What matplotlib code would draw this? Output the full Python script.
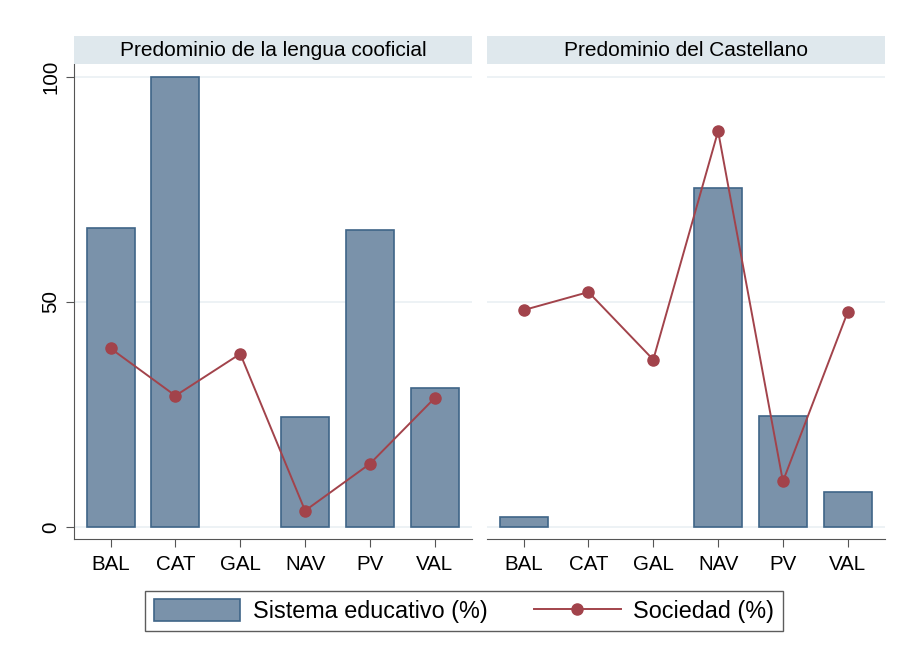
import matplotlib.pyplot as plt
from matplotlib.patches import Patch
from matplotlib.lines import Line2D

plt.rcParams['font.family'] = ['Liberation Sans', 'DejaVu Sans']

regiones = ["BAL", "CAT", "GAL", "NAV", "PV", "VAL"]
paneles = ["Predominio de la lengua cooficial", "Predominio del Castellano"]

# sistema educativo (%) y sociedad (%) por panel
educ_cooficial = [66.5, 100, 0, 24.4, 66.0, 30.9]
soc_cooficial = [39.7, 29.2, 38.5, 3.7, 14.1, 28.7]
educ_castellano = [2.4, 0, 0, 75.3, 24.7, 7.8]
soc_castellano = [48.2, 52.2, 37.2, 87.9, 10.2, 47.8]

educ = [educ_cooficial, educ_castellano]
soc = [soc_cooficial, soc_castellano]

bar_col = "#7a92aa"
bar_edge = "#3f6588"
line_col = "#a2434b"
strip_col = "#dfe8ed"
grid_col = "#eaf0f4"

W, H = 910, 651
fig = plt.figure(figsize=(W / 100, H / 100), dpi=100)

lefts = [74.3, 487.3]
ax_w = 397.4
ax_top, ax_bot = 64, 539.3

x = list(range(len(regiones)))
for i in range(2):
    ax = fig.add_axes([lefts[i] / W, (H - ax_bot) / H, ax_w / W, (ax_bot - ax_top) / H])
    # sin borde para barras de altura cero
    lw = [1.2 if v > 0 else 0 for v in educ[i]]
    ax.bar(x, educ[i], width=0.74, color=bar_col, edgecolor=bar_edge, linewidth=lw, zorder=2)
    ax.plot(x, soc[i], color=line_col, lw=1.4, marker="o", ms=8, zorder=3)
    ax.set_xlim(-0.56, 5.57)
    ax.set_ylim(-2.65, 102.8)
    ax.set_yticks([0, 50, 100])
    ax.grid(axis="y", color=grid_col, lw=1.2, zorder=0)
    ax.set_xticks(x)
    ax.set_xticklabels(regiones, fontsize=14.8)
    ax.tick_params(axis="x", length=6, color="#555555", pad=5)
    for s in ["top", "right"]:
        ax.spines[s].set_visible(False)
    ax.spines["bottom"].set_color("#555555")
    ax.spines["left"].set_color("#555555")
    if i == 0:
        ax.set_yticklabels(["0", "50", "100"], fontsize=14.8, rotation=90, va="center")
        ax.tick_params(axis="y", length=6, color="#555555", pad=4)
    else:
        ax.spines["left"].set_visible(False)
        ax.tick_params(axis="y", left=False, labelleft=False)

    # franja de título
    st = fig.add_axes([lefts[i] / W, (H - 64) / H, ax_w / W, 28.3 / H])
    st.set_facecolor(strip_col)
    st.set_xticks([])
    st.set_yticks([])
    for s in st.spines.values():
        s.set_visible(False)
    st.text(0.5, 0.47, paneles[i], ha="center", va="center", fontsize=15, transform=st.transAxes)

handles = [Patch(facecolor=bar_col, edgecolor=bar_edge, linewidth=1.2),
           Line2D([], [], color=line_col, lw=1.4, marker="o", ms=8)]
leg = fig.legend(handles, ["Sistema educativo (%)", "Sociedad (%)"], loc="center",
                 bbox_to_anchor=(464 / W, 40 / H), ncol=2, fontsize=16.8, frameon=True,
                 fancybox=False, edgecolor="#333333", handlelength=3.7, handleheight=1.1,
                 handletextpad=0.55, columnspacing=2.0, borderpad=0.35, borderaxespad=0)
leg.get_frame().set_linewidth(1.0)

fig.savefig("out.png", dpi=100, facecolor="white")
